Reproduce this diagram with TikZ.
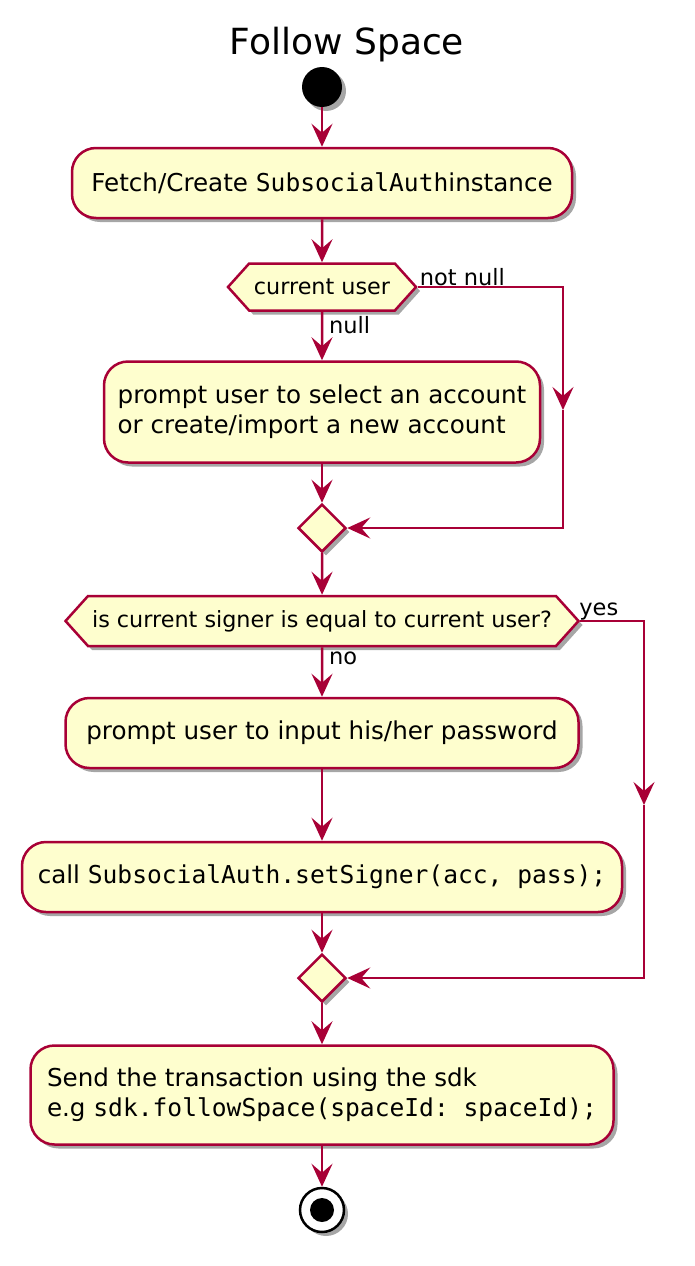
\documentclass[tikz,border=0pt]{standalone}
\usepackage{fontspec}
\setmainfont{DejaVu Sans}
\setmonofont{DejaVu Sans Mono}
\usetikzlibrary{positioning,shapes.geometric,shapes.symbols,shadows,arrows.meta}
\definecolor{umlred}{HTML}{A80036}
\definecolor{umlfill}{HTML}{FEFECE}
\newcommand\code[1]{{\fontsize{24.6}{30}\selectfont\texttt{#1}}}

\begin{document}
\begin{tikzpicture}[x=1pt,y=-1pt,font=\fontsize{24.6}{30}\selectfont,
  shade/.style={drop shadow={shadow xshift=4pt,shadow yshift=-4pt,opacity=0.35,fill=black}},
  act/.style={draw=umlred,fill=umlfill,line width=2.5pt,rounded corners=24pt,inner sep=0pt,align=left,shade},
  cond/.style={draw=umlred,fill=umlfill,line width=2.5pt,shape=signal,signal to=east and west,signal pointer angle=96,inner sep=0pt,font=\fontsize{22.3}{26}\selectfont,shade},
  merge/.style={draw=umlred,fill=umlfill,line width=2.5pt,shape=diamond,minimum width=48pt,minimum height=48pt,inner sep=0pt,shade},
  lbl/.style={inner sep=1pt,font=\fontsize{22.5}{25}\selectfont},
  wire/.style={draw=umlred,line width=2.5pt},
  flow/.style={wire,-{Stealth[length=23pt,width=21pt,inset=9pt]}}]
\useasboundingbox (0,0) rectangle (695,1266);
\node[font=\fontsize{36}{40}\selectfont] (title) at (347,45) {Follow Space};
\node[circle,fill=black,minimum size=40pt,inner sep=0pt,shade] (start) at (322,87) {};
\node[act,minimum width=500pt,minimum height=70pt] (fetch) at (322,183) {Fetch/Create \code{SubsocialAuth}instance};
\node[cond,minimum width=188pt,minimum height=47pt] (user) at (322,287) {current user};
\node[act,minimum width=436pt,minimum height=101pt] (select) at (322,412) {prompt user to select an account\\or create/import a new account};
\node[merge] (merge1) at (322,528) {};
\node[cond,minimum width=513pt,minimum height=50pt] (signer) at (322,621) {is current signer is equal to current user?};
\node[act,minimum width=513pt,minimum height=70pt] (pass) at (322,733) {prompt user to input his/her password};
\node[act,minimum width=600pt,minimum height=70pt] (setsig) at (322,877) {call \code{SubsocialAuth.setSigner(acc, pass);}};
\node[merge] (merge2) at (322,978) {};
\node[act,minimum width=583pt,minimum height=99pt] (send) at (322,1095) {Send the transaction using the sdk\\e.g \code{sdk.followSpace(spaceId: spaceId);}};
\node[circle,draw=black,line width=2.5pt,fill=white,minimum size=44pt,inner sep=0pt,shade] (stop) at (322,1210) {};
\node[circle,fill=black,minimum size=24pt,inner sep=0pt] (stopdot) at (stop) {};
\coordinate (r1) at (563,287);
\coordinate (r1m) at (563,410);
\coordinate (r2) at (644,621);
\coordinate (r2m) at (644,805);
\draw[flow] (start) -- (fetch);
\draw[flow] (fetch) -- (user);
\draw[flow] (user) -- (select);
\node[lbl,anchor=north west] (nulllbl) at ([xshift=6pt,yshift=-3pt]user.south) {null};
\draw[flow] (user.east) -- (r1) -- (r1m);
\node[lbl,anchor=south west] (notnull) at ([xshift=1pt]user.east) {not null};
\draw[flow] (r1m) |- (merge1.east);
\draw[flow] (select) -- (merge1);
\draw[flow] (merge1) -- (signer);
\draw[flow] (signer) -- (pass);
\node[lbl,anchor=north west] (nolbl) at ([xshift=6pt,yshift=-3pt]signer.south) {no};
\draw[flow] (signer.east) -- (r2) -- (r2m);
\node[lbl,anchor=south west] (yeslbl) at ([xshift=-2pt]signer.east) {yes};
\draw[flow] (r2m) |- (merge2.east);
\draw[flow] (pass) -- (setsig);
\draw[flow] (setsig) -- (merge2);
\draw[flow] (merge2) -- (send);
\draw[flow] (send) -- (stop);
\end{tikzpicture}
\end{document}
